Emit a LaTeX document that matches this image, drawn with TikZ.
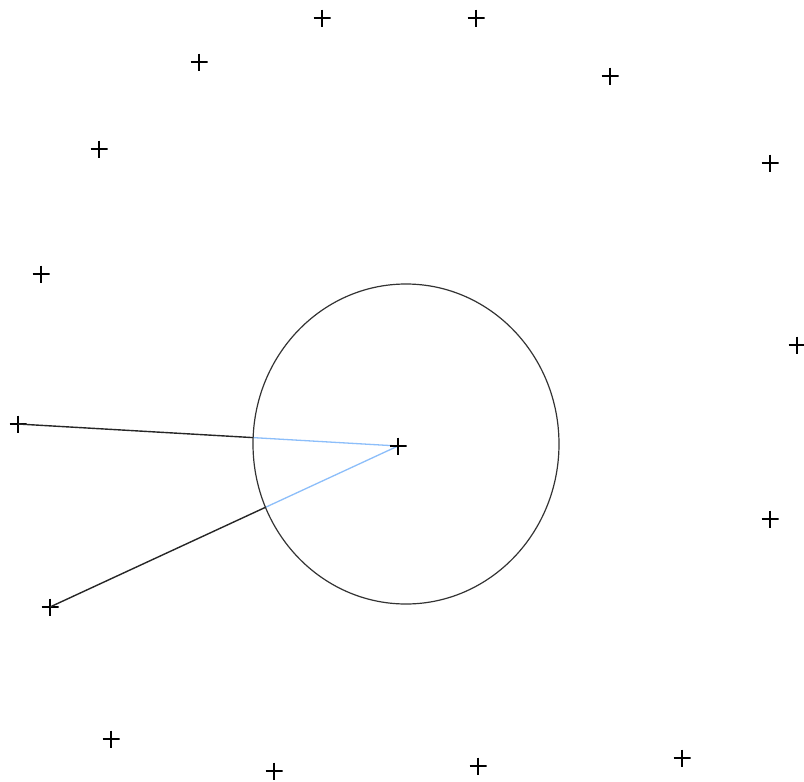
\documentclass[tikz,border=0pt]{standalone}
\begin{document}
\begin{tikzpicture}[x=1pt,y=-1pt,
  mk/.style={inner sep=0pt,minimum size=17pt,
    path picture={\draw[line width=1.6pt,black]
      (path picture bounding box.north) -- (path picture bounding box.south)
      (path picture bounding box.west) -- (path picture bounding box.east);}},
  ray/.style={line width=1.4pt,black!85},
  rayin/.style={line width=1.3pt,lb},
  ring/.style={line width=1.2pt,black!80}]
\definecolor{lb}{RGB}{140,190,250}
\useasboundingbox (0,0) rectangle (804,782);
\coordinate (e) at (406,444);
\node[mk] (p1) at (322,18) {};
\node[mk] (p2) at (476,18) {};
\node[mk] (p3) at (199,62) {};
\node[mk] (p4) at (610,76) {};
\node[mk] (p5) at (99,149) {};
\node[mk] (p6) at (770,163) {};
\node[mk] (p7) at (41,274) {};
\node[mk] (p8) at (797,345) {};
\node[mk] (p9) at (18,424) {};
\node[mk] (p11) at (770,519) {};
\node[mk] (p12) at (50,607) {};
\node[mk] (p13) at (111,739) {};
\node[mk] (p14) at (274,771) {};
\node[mk] (p15) at (478,766) {};
\node[mk] (p16) at (682,758) {};
\coordinate (c) at (398,446);
\draw[ray] (p9.center) -- (c);
\draw[ray] (p12.center) -- (c);
\fill[white] (e) ellipse [x radius=153, y radius=160];
\begin{scope}
\clip (e) ellipse [x radius=153, y radius=160];
\draw[rayin] (p9.center) -- (c);
\draw[rayin] (p12.center) -- (c);
\end{scope}
\draw[ring] (e) ellipse [x radius=153, y radius=160];
\node[mk] (p10) at (c) {};
\end{tikzpicture}
\end{document}
